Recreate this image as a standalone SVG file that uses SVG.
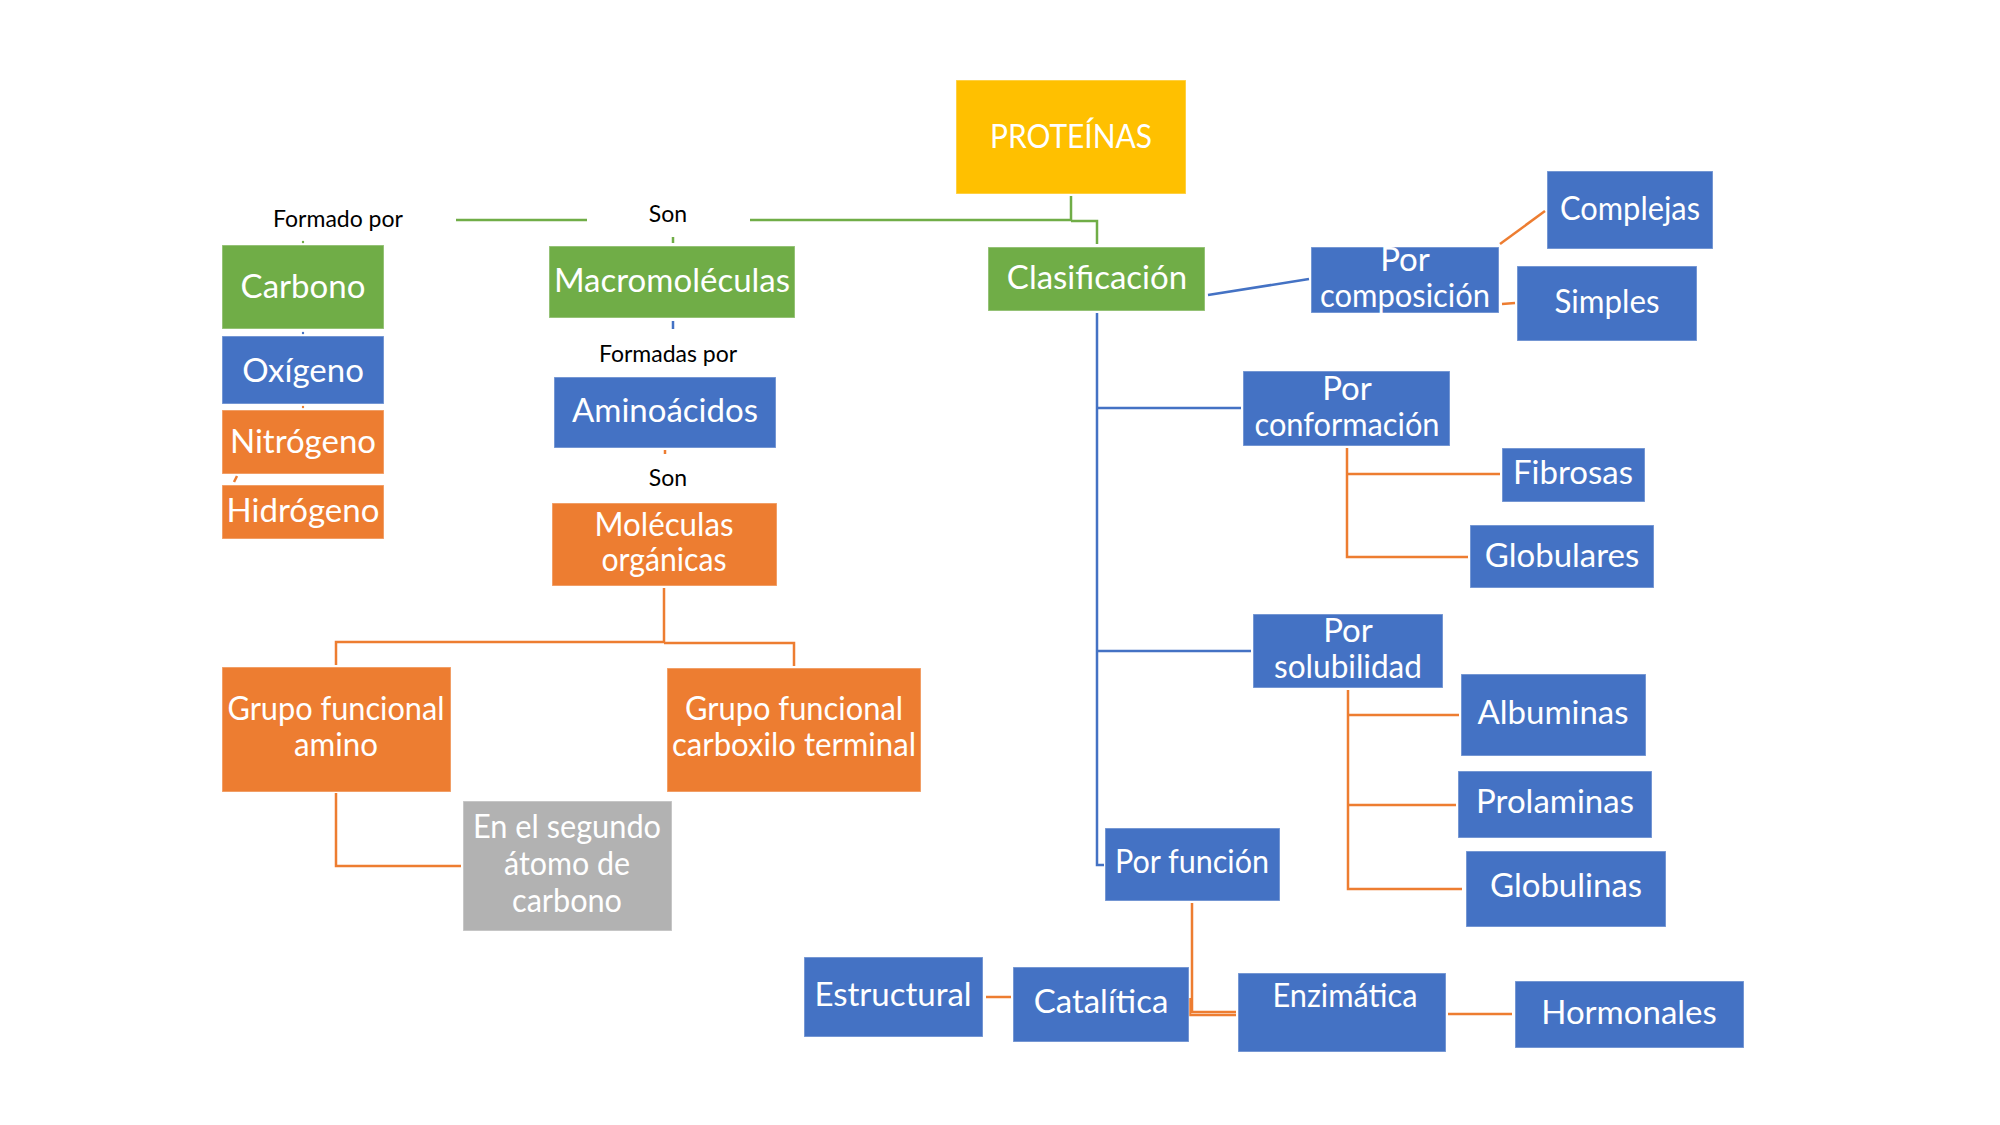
<svg xmlns="http://www.w3.org/2000/svg" width="2000" height="1125" viewBox="0 0 2000 1125">
<style>
.g{fill:#70AD47}.b{fill:#4472C4}.o{fill:#ED7D31}.y{fill:#FFC000}.gr{fill:#B2B2B2}
rect{stroke:#ffffff;stroke-opacity:0.35;stroke-width:1.5}
.t{font-family:Lato,"Liberation Sans",sans-serif;font-size:33px;fill:#ffffff;text-anchor:middle}
.l{font-family:Lato,"Liberation Sans",sans-serif;font-size:23px;fill:#000000;text-anchor:middle}
.cg,.cb,.co{fill:none;stroke-width:2.5}
.cg{stroke:#70AD47}.cb{stroke:#4472C4}.co{stroke:#ED7D31}
</style>
<rect width="2000" height="1125" fill="#ffffff" stroke="none"/>
<g id="connectors">
<path class="cg" d="M456,220 H587"/>
<path class="cg" d="M1071,196 V220 H750"/>
<path class="cg" d="M1071,221 H1097 V244"/>
<path class="cg" d="M673,237 V243"/>
<circle cx="303" cy="242" r="1.2" fill="#70AD47"/>
<circle cx="303" cy="333" r="1.2" fill="#4472C4"/>
<circle cx="303" cy="407" r="1.2" fill="#ED7D31"/>
<path class="co" d="M234,482 L237,476"/>
<path class="cb" d="M673,321 V329"/>
<path class="cb" d="M1208,295 L1309,279"/>
<path class="cb" d="M1097,313 V865 H1104"/>
<path class="cb" d="M1097,408 H1241"/>
<path class="cb" d="M1097,651 H1251"/>
<path class="co" d="M665,450 V454"/>
<path class="co" d="M664,588 V642 H336 V665"/>
<path class="co" d="M664,643 H794 V666"/>
<path class="co" d="M336,793 V866 H461"/>
<path class="co" d="M1500,244 L1545,211"/>
<path class="co" d="M1502,304 L1515,303"/>
<path class="co" d="M1347,448 V557 H1468"/>
<path class="co" d="M1347,474 H1500"/>
<path class="co" d="M1348,690 V889 H1462"/>
<path class="co" d="M1348,715 H1459"/>
<path class="co" d="M1348,805 H1456"/>
<path class="co" d="M1192,903 V1012 H1236"/>
<path class="co" d="M1190,998 V1015 H1236"/>
<path class="co" d="M986,997 H1011"/>
<path class="co" d="M1448,1014 H1512"/>
</g>
<g id="labels">
<text class="l" x="338" y="227">Formado por</text>
<text class="l" x="668" y="222">Son</text>
<text class="l" x="668" y="362">Formadas por</text>
<text class="l" x="668" y="486">Son</text>
</g>
<g id="proteinas"><rect class="y" x="956" y="80" width="230" height="114"/><text class="t" x="1071" y="148" textLength="162" lengthAdjust="spacingAndGlyphs">PROTEÍNAS</text></g>
<g id="clasificacion"><rect class="g" x="988" y="247" width="217" height="64"/><text class="t" x="1097" y="289">Clasificación</text></g>
<g id="carbono"><rect class="g" x="222" y="245" width="162" height="84"/><text class="t" x="303" y="298">Carbono</text></g>
<g id="oxigeno"><rect class="b" x="222" y="336" width="162" height="68"/><text class="t" x="303" y="382">Oxígeno</text></g>
<g id="nitrogeno"><rect class="o" x="222" y="410" width="162" height="64"/><text class="t" x="303" y="453">Nitrógeno</text></g>
<g id="hidrogeno"><rect class="o" x="222" y="485" width="162" height="54"/><text class="t" x="303" y="522">Hidrógeno</text></g>
<g id="macromoleculas"><rect class="g" x="549" y="246" width="246" height="72"/><text class="t" x="672" y="292">Macromoléculas</text></g>
<g id="aminoacidos"><rect class="b" x="554" y="377" width="222" height="71"/><text class="t" x="665" y="422">Aminoácidos</text></g>
<g id="moleculas"><rect class="o" x="552" y="503" width="225" height="83"/><text class="t" x="664" y="536" textLength="139" lengthAdjust="spacingAndGlyphs">Moléculas</text><text class="t" x="664" y="571" textLength="125" lengthAdjust="spacingAndGlyphs">orgánicas</text></g>
<g id="amino"><rect class="o" x="222" y="667" width="229" height="125"/><text class="t" x="336" y="720" textLength="217" lengthAdjust="spacingAndGlyphs">Grupo funcional</text><text class="t" x="336" y="756" textLength="84" lengthAdjust="spacingAndGlyphs">amino</text></g>
<g id="carboxilo"><rect class="o" x="667" y="668" width="254" height="124"/><text class="t" x="794" y="720" textLength="218" lengthAdjust="spacingAndGlyphs">Grupo funcional</text><text class="t" x="794" y="756" textLength="244" lengthAdjust="spacingAndGlyphs">carboxilo terminal</text></g>
<g id="segundo"><rect class="gr" x="463" y="801" width="209" height="130"/><text class="t" x="567" y="838" textLength="188" lengthAdjust="spacingAndGlyphs">En el segundo</text><text class="t" x="567" y="875" textLength="126" lengthAdjust="spacingAndGlyphs">átomo de</text><text class="t" x="567" y="912" textLength="110" lengthAdjust="spacingAndGlyphs">carbono</text></g>
<g id="composicion"><rect class="b" x="1311" y="247" width="188" height="66"/><text class="t" x="1405" y="271">Por</text><text class="t" x="1405" y="307" textLength="170" lengthAdjust="spacingAndGlyphs">composición</text></g>
<g id="complejas"><rect class="b" x="1547" y="171" width="166" height="78"/><text class="t" x="1630" y="220" textLength="140" lengthAdjust="spacingAndGlyphs">Complejas</text></g>
<g id="simples"><rect class="b" x="1517" y="266" width="180" height="75"/><text class="t" x="1607" y="313" textLength="105" lengthAdjust="spacingAndGlyphs">Simples</text></g>
<g id="conformacion"><rect class="b" x="1243" y="371" width="207" height="75"/><text class="t" x="1347" y="400">Por</text><text class="t" x="1347" y="436" textLength="185" lengthAdjust="spacingAndGlyphs">conformación</text></g>
<g id="fibrosas"><rect class="b" x="1502" y="448" width="143" height="54"/><text class="t" x="1573" y="484">Fibrosas</text></g>
<g id="globulares"><rect class="b" x="1470" y="525" width="184" height="63"/><text class="t" x="1562" y="567">Globulares</text></g>
<g id="solubilidad"><rect class="b" x="1253" y="614" width="190" height="74"/><text class="t" x="1348" y="642">Por</text><text class="t" x="1348" y="678" textLength="148" lengthAdjust="spacingAndGlyphs">solubilidad</text></g>
<g id="albuminas"><rect class="b" x="1461" y="674" width="185" height="82"/><text class="t" x="1553" y="724">Albuminas</text></g>
<g id="prolaminas"><rect class="b" x="1458" y="771" width="194" height="67"/><text class="t" x="1555" y="813">Prolaminas</text></g>
<g id="globulinas"><rect class="b" x="1466" y="851" width="200" height="76"/><text class="t" x="1566" y="897">Globulinas</text></g>
<g id="funcion"><rect class="b" x="1105" y="828" width="175" height="73"/><text class="t" x="1192" y="873" textLength="154" lengthAdjust="spacingAndGlyphs">Por función</text></g>
<g id="estructural"><rect class="b" x="804" y="957" width="179" height="80"/><text class="t" x="893" y="1006">Estructural</text></g>
<g id="catalitica"><rect class="b" x="1013" y="967" width="176" height="75"/><text class="t" x="1101" y="1013">Catalítica</text></g>
<g id="enzimatica"><rect class="b" x="1238" y="973" width="208" height="79"/><text class="t" x="1345" y="1007" textLength="145" lengthAdjust="spacingAndGlyphs">Enzimática</text></g>
<g id="hormonales"><rect class="b" x="1515" y="981" width="229" height="67"/><text class="t" x="1629" y="1024">Hormonales</text></g>
</svg>
